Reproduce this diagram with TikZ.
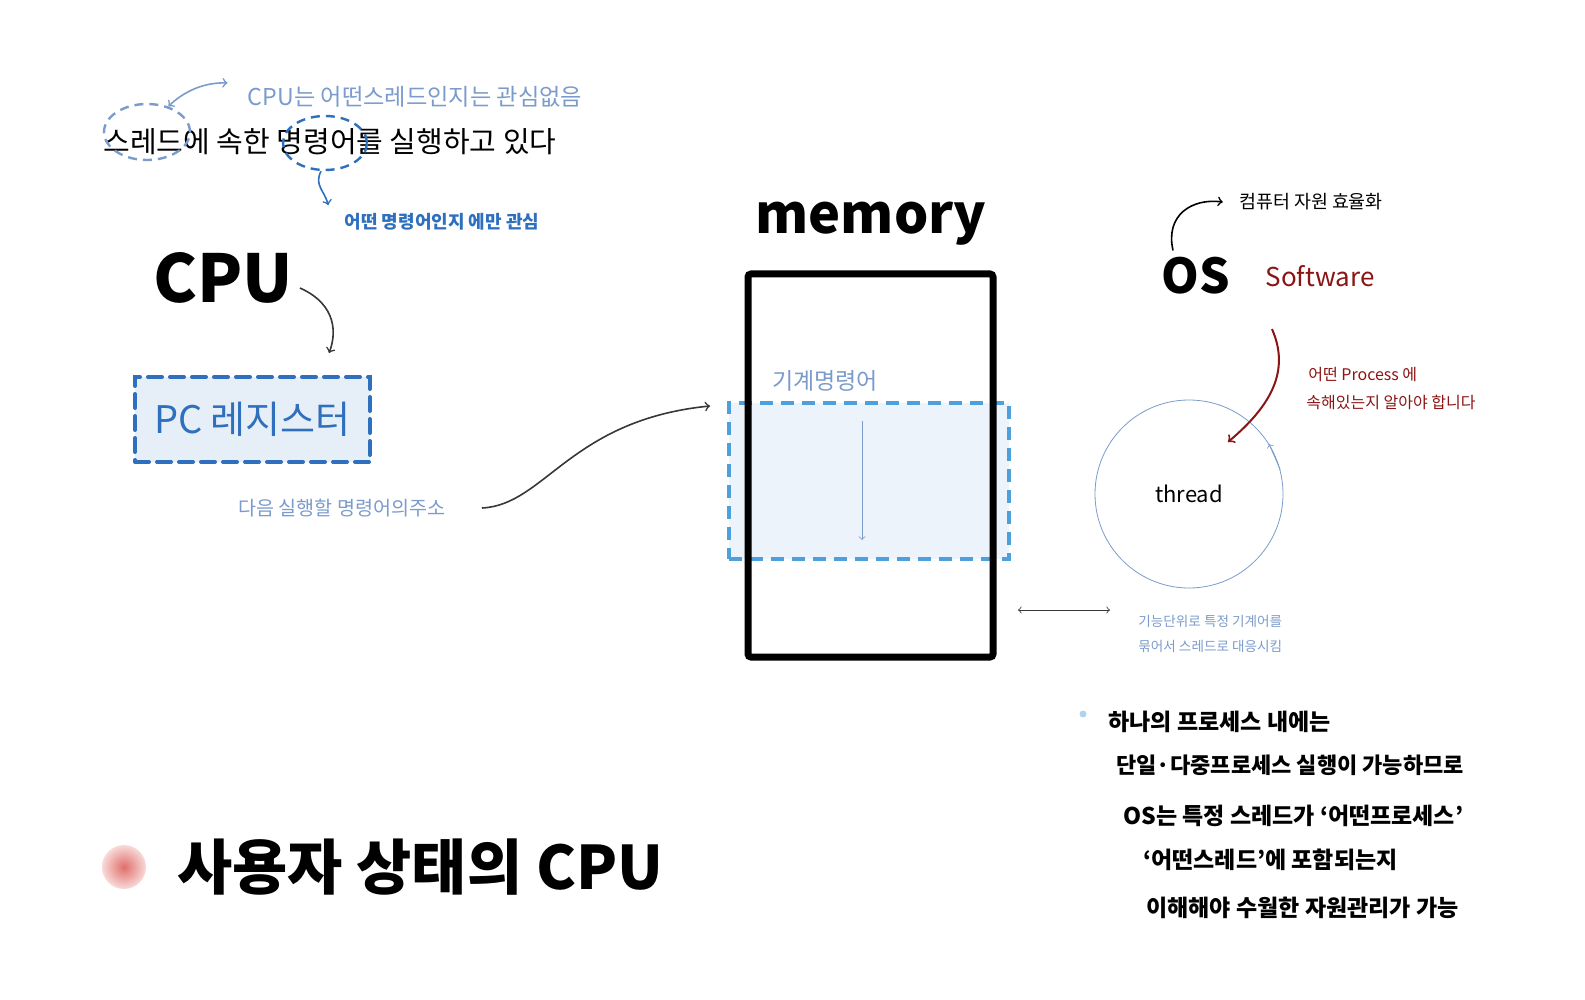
\documentclass[tikz,border=0pt]{standalone}
\usepackage{fontspec}
\setmainfont{Noto Sans CJK KR}
\usetikzlibrary{shapes.geometric}
\definecolor{paleblue}{RGB}{122,155,203}
\definecolor{penblue}{RGB}{46,111,190}
\definecolor{dashblue}{RGB}{78,160,220}
\definecolor{pcfill}{RGB}{230,238,247}
\definecolor{hlfill}{RGB}{236,243,250}
\definecolor{darkred}{RGB}{139,20,20}
\definecolor{blobred}{RGB}{225,110,105}
\definecolor{pencil}{RGB}{55,55,55}
\newcommand{\fs}[1]{\fontsize{#1}{#1}\selectfont}

\begin{document}
\begin{tikzpicture}[x=0.5pt, y=-0.5pt, ->,
    txt/.style={inner sep=0pt},
    bubble/.style={ellipse, dashed, line width=1.2pt, dash pattern=on 4.5pt off 3pt}]
  \useasboundingbox (0,0) rectangle (1585,1000);

  % thread / instruction notes
  \node[txt, font=\fs{14.5pt}] (sentence) at (330,142) {스레드에 속한 명령어를 실행하고 있다};
  \node[bubble, draw=paleblue, minimum width=43pt, minimum height=28pt] (thrEll) at (147,132) {};
  \node[bubble, draw=penblue, minimum width=42pt, minimum height=27pt] (cmdEll) at (325,143) {};
  \node[txt, color=paleblue, font=\fs{11.6pt}] (cpunote) at (415,97) {CPU는 어떤스레드인지는 관심없음};
  \node[txt, color=penblue, font=\bfseries\fs{9pt}] (cmdnote) at (442,222) {어떤 명령어인지 에만 관심};
  \draw[<->, color=paleblue, thick] (thrEll.50) .. controls (180,95) and (200,82) .. ([xshift=-10pt, yshift=7pt]cpunote.west);
  \draw[color=penblue, thick] ([xshift=-2pt]cmdEll.south) .. controls (314,185) and (324,190) .. ([xshift=-8pt, yshift=4pt]cmdnote.north west);

  % cpu
  \node[font=\bfseries\fs{33pt}] (cpu) at (223,278) {CPU};
  \node[draw=penblue, fill=pcfill, line width=2pt, dash pattern=on 7pt off 4pt, line cap=round,
        minimum width=117.5pt, minimum height=42.5pt, text=penblue, font=\fs{19pt}] (pcreg) at (252.5,419.5) {PC 레지스터};
  \node[txt, color=paleblue, font=\fs{9.8pt}] (addr) at (342,508) {다음 실행할 명령어의주소};
  \draw[color=pencil, thick] ([yshift=-5pt]cpu.east) .. controls (338,305) and (336,335) .. ([xshift=-21.5pt, yshift=11pt]pcreg.north east);

  % memory
  \node[font=\bfseries\fs{27pt}] (memlabel) at (871,224) {memory};
  \node[draw=dashblue, fill=hlfill, line width=2pt, dash pattern=on 6.5pt off 4pt,
        minimum width=140pt, minimum height=78pt] (hl) at (869,481) {};
  \node[draw, line width=3.5pt, rounded corners=1.5pt, minimum width=122.5pt, minimum height=191.5pt] (mem) at (870.5,465.5) {};
  \node[txt, color=paleblue, font=\fs{11.5pt}] (mcode) at (825,381) {기계명령어};
  \draw[color=paleblue] ([xshift=-3.5pt, yshift=-10pt]hl.north) -- ([xshift=-3.5pt, yshift=10.5pt]hl.south);
  \draw[color=pencil, thick] ([xshift=18pt]addr.east) .. controls (545,505) and (570,420) .. ([xshift=-8.5pt, yshift=-2.5pt]hl.north west);

  % os
  \node[font=\bfseries\fs{24pt}] (os) at (1196,276) {OS};
  \node[txt, color=darkred, font=\fs{13pt}] (sw) at (1320,276) {Software};
  \node[txt, font=\fs{9.2pt}] (effi) at (1311,202) {컴퓨터 자원 효율화};
  \draw[thick] ([xshift=-11.5pt]os.north) .. controls (1165,215) and (1192,198) .. ([xshift=-8pt]effi.west);

  % thread
  \node[circle, draw=paleblue, minimum size=94pt, font=\fs{11pt}] (thread) at (1189,494) {thread};
  \draw[color=paleblue] (thread.15) -- (thread.32);
  \coordinate (redend) at (1228,442);
  \draw[color=darkred, line width=1pt] ([xshift=-24pt, yshift=-21pt]sw.south) .. controls (1290,370) and (1272,405) .. (redend);
  \node[txt, anchor=west, color=darkred, font=\fs{8pt}] (rednote1) at (1308,375) {어떤 Process 에};
  \node[txt, anchor=west, color=darkred, font=\fs{8pt}] (rednote2) at (1306,402) {속해있는지 알아야 합니다};
  \node[txt, anchor=west, color=paleblue, font=\fs{6.8pt}] (bundle1) at (1138,621) {기능단위로 특정 기계어를};
  \node[txt, anchor=west, color=paleblue, font=\fs{6.8pt}] (bundle2) at (1138,646) {묶어서 스레드로 대응시킴};
  \coordinate (linkl) at (1018,610);
  \coordinate (linkr) at (1110,610);
  \draw[<->, color=pencil] (linkl) -- (linkr);

  % summary
  \node[circle, fill=dashblue!45, inner sep=0pt, minimum size=3.5pt] (dot) at (1083,714) {};
  \node[txt, anchor=west, font=\bfseries\fs{11.5pt}] (l1) at (1108,722) {하나의 프로세스 내에는};
  \node[txt, anchor=west, font=\bfseries\fs{11pt}] (l2) at (1116,765) {단일·다중프로세스 실행이 가능하므로};
  \node[txt, anchor=west, font=\bfseries\fs{11.5pt}] (l3) at (1123,816) {OS는 특정 스레드가 ‘어떤프로세스’};
  \node[txt, anchor=west, font=\bfseries\fs{11.5pt}] (l4) at (1143,860) {‘어떤스레드’에 포함되는지};
  \node[txt, anchor=west, font=\bfseries\fs{11.5pt}] (l5) at (1146,908) {이해해야 수월한 자원관리가 가능};

  % title
  \node[circle, inner color=blobred, outer color=blobred!25, minimum size=22pt] (blob) at (124,867) {};
  \node[txt, anchor=west, font=\bfseries\fs{30pt}] (title) at (177,867) {사용자 상태의 CPU};
\end{tikzpicture}
\end{document}
